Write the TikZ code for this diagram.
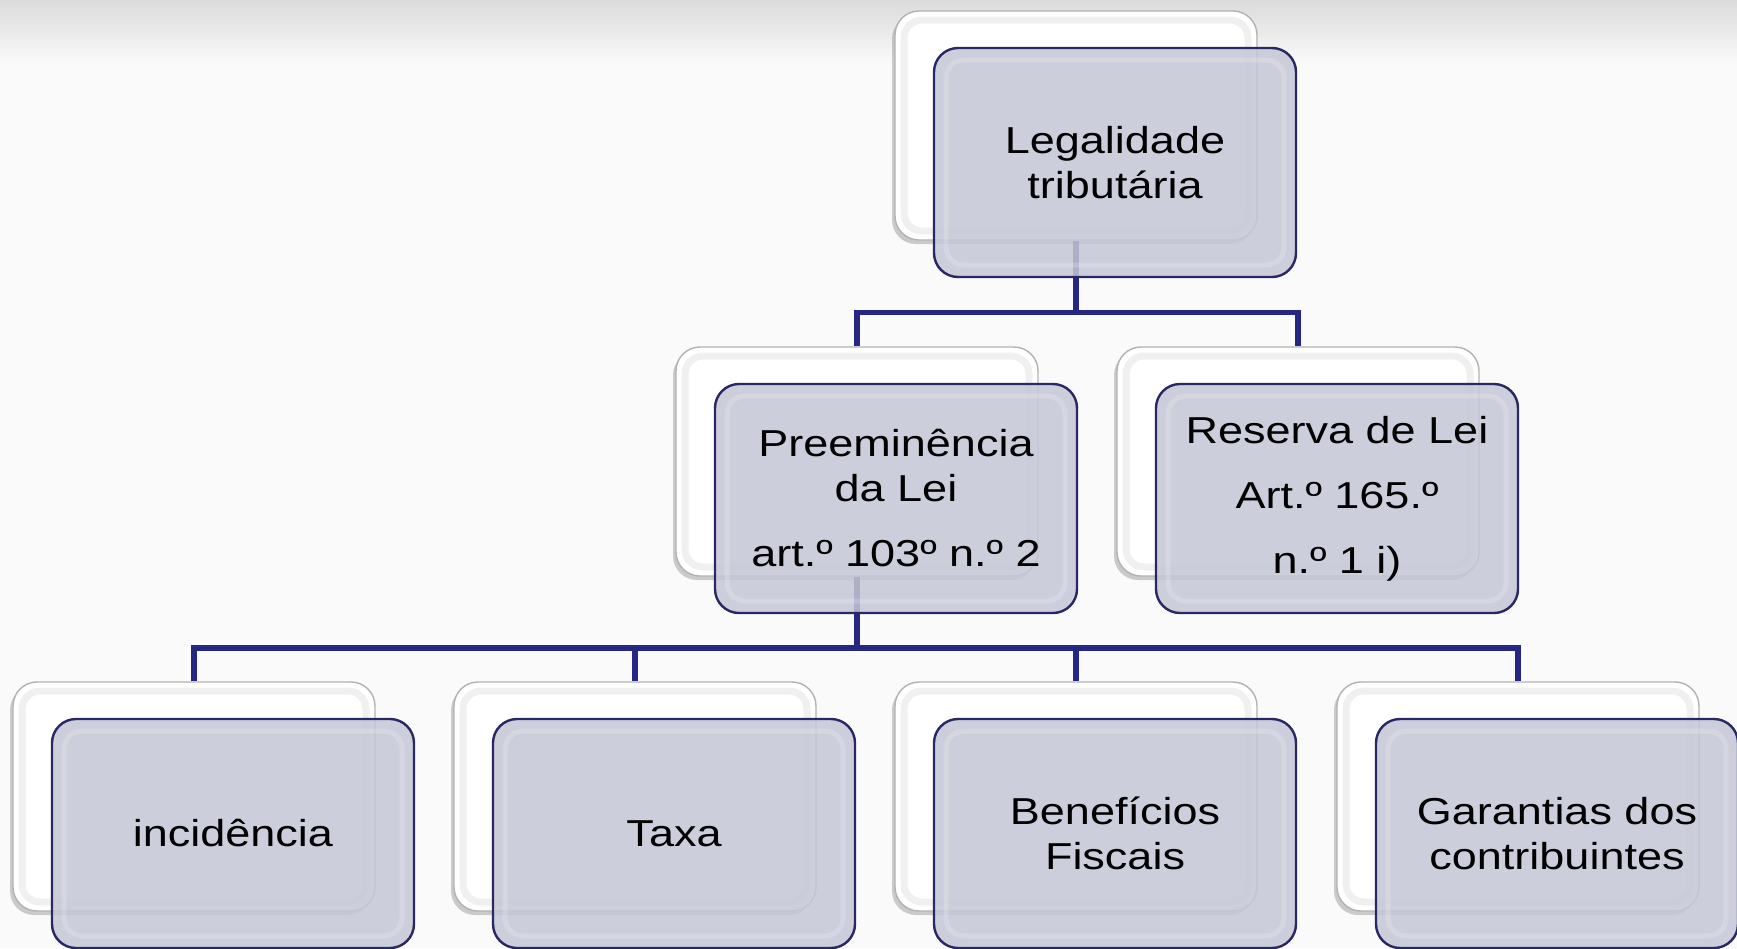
\documentclass[tikz,border=0pt]{standalone}
\usepackage{fontspec}
\setmainfont{Liberation Sans}[FakeStretch=1.2]
\usetikzlibrary{calc,shadows}

\definecolor{navy}{RGB}{38,38,132}
\definecolor{frontfill}{RGB}{197,199,214}
\definecolor{frontline}{RGB}{40,40,100}
\definecolor{bg}{RGB}{250,250,250}

\pgfdeclarelayer{backlayer}
\pgfdeclarelayer{links}
\pgfsetlayers{backlayer,links,main}

\tikzset{
  backbox/.style={rectangle, rounded corners=24pt, minimum width=362pt,
    minimum height=229pt, inner sep=0pt, fill=white, draw=black!30, line width=1.4pt,
    drop shadow={shadow xshift=-3pt, shadow yshift=-4pt, opacity=0.35, fill=black!55},
    path picture={
      \draw[black!6, line width=7pt, rounded corners=18pt]
        ([shift={(9pt,-9pt)}]path picture bounding box.north west) rectangle
        ([shift={(-9pt,9pt)}]path picture bounding box.south east);}},
  frontbox/.style={rectangle, rounded corners=24pt, minimum width=362pt,
    minimum height=229pt, inner sep=0pt, fill=frontfill, fill opacity=0.86,
    text opacity=1, draw=frontline, line width=2.4pt, align=center,
    font=\fontsize{37.5}{45}\selectfont,
    path picture={
      \draw[white, opacity=0.18, line width=5pt, rounded corners=18pt]
        ([shift={(12pt,-12pt)}]path picture bounding box.north west) rectangle
        ([shift={(-12pt,12pt)}]path picture bounding box.south east);}},
  conn/.style={draw=navy, line width=5.5pt},
}

\begin{document}
\begin{tikzpicture}[x=1pt, y=-1pt]
  \useasboundingbox (0,0) rectangle (1737,948);
  % page background
  \begin{pgfonlayer}{backlayer}
    \fill[bg] (0,0) rectangle (1737,948);
    \shade[top color=black!14, bottom color=bg] (0,0) rectangle (1737,65);
  \end{pgfonlayer}

  % white back plates
  \begin{pgfonlayer}{backlayer}
    \node[backbox] (topB)  at (1076,125.5) {};
    \node[backbox] (presB) at (857,461.5)  {};
    \node[backbox] (resB)  at (1298,461.5) {};
    \node[backbox] (incB)  at (194,796.5)  {};
    \node[backbox] (taxB)  at (635,796.5)  {};
    \node[backbox] (benB)  at (1076,796.5) {};
    \node[backbox] (garB)  at (1518,796.5) {};
  \end{pgfonlayer}

  % labelled front plates
  \node[frontbox] (topF)  at ($(topB)+(39,37)$)  {Legalidade\\tributária};
  \node[frontbox] (presF) at ($(presB)+(39,37)$) {Preeminência\\da Lei\\[20pt]art.º 103º n.º 2};
  \node[frontbox] (resF)  at ($(resB)+(39,37)$)  {Reserva de Lei\\[20pt]Art.º 165.º\\[20pt]n.º 1 i)};
  \node[frontbox] (incF)  at ($(incB)+(39,37)$)  {incidência};
  \node[frontbox] (taxF)  at ($(taxB)+(39,37)$)  {Taxa};
  \node[frontbox] (benF)  at ($(benB)+(39,37)$)  {Benefícios\\Fiscais};
  \node[frontbox] (garF)  at ($(garB)+(39,37)$)  {Garantias dos\\contribuintes};

  % tree connectors
  \coordinate (barA) at ($(topF.south)!0.5!(presB.north)$);
  \coordinate (barB) at ($(presF.south)!0.5!(incB.north)$);
  \begin{pgfonlayer}{links}
    \draw[conn] (topB.south) -- (topB.south |- barA) -| (presB.north);
    \draw[conn] (topB.south |- barA) -| (resB.north);
    \draw[conn] (presB.south) -- (presB.south |- barB);
    \draw[conn] (incB.north) |- (presB.south |- barB) -| (garB.north);
    \draw[conn] (taxB.north) -- (taxB.north |- barB);
    \draw[conn] (benB.north) -- (benB.north |- barB);
  \end{pgfonlayer}
\end{tikzpicture}
\end{document}
